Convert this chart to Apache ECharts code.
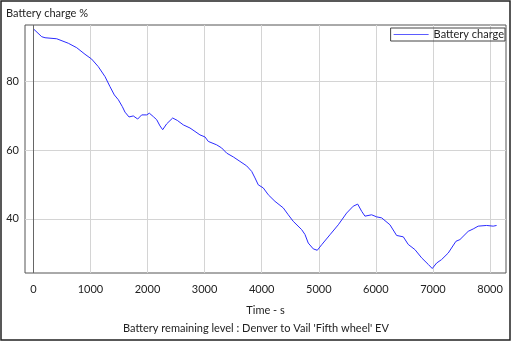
<!DOCTYPE html>
<html><head><meta charset="utf-8">
<script src="https://cdn.jsdelivr.net/npm/echarts@6/dist/echarts.min.js"></script>
<style>html,body{margin:0;padding:0;background:#fff}#c{width:512px;height:342px}</style>
</head><body><div id="c"></div>
<script>
const timeS = [0,147,205,410,613,760,905,1022,1138,1256,1343,1419,1489,1559,1606,1676,1751,1828,1898,1986,2032,2102,2161,2219,2266,2336,2441,2522,2627,2744,2832,2919,3007,3065,3212,3299,3387,3503,3620,3737,3825,3883,3940,4028,4116,4233,4378,4466,4553,4700,4758,4816,4904,4974,5051,5196,5342,5488,5604,5682,5752,5809,5926,6014,6102,6247,6364,6481,6567,6684,6802,6918,6988,7065,7152,7268,7403,7473,7618,7706,7793,7940,8056,8115];
const chargePct = [95.2,92.9,92.6,92.3,91.0,89.7,87.8,86.4,84.2,81.3,78.4,76.0,74.6,72.6,71.0,69.6,69.9,69.0,70.2,70.2,70.7,69.7,68.8,67.0,65.9,67.6,69.3,68.6,67.3,66.4,65.4,64.4,63.8,62.5,61.5,60.6,59.1,58.0,56.7,55.4,53.8,51.9,49.9,49.0,47.0,45.1,43.2,41.2,39.3,36.9,35.5,33.0,31.3,30.9,32.5,35.4,38.3,41.7,43.7,44.3,42.2,40.8,41.2,40.6,40.3,38.3,35.2,34.8,32.6,31.1,28.7,26.8,25.6,27.2,28.2,30.1,33.5,34.0,36.4,37.1,37.9,38.1,37.9,38.1];
const xTicks = [0,1000,2000,3000,4000,5000,6000,7000,8000];
const yTicks = [40,60,80];
const seriesName = 'Battery charge';
const titleText = 'Battery charge %';
const xName = 'Time - s';
const subtitleText = "Battery remaining level : Denver to Vail 'Fifth wheel' EV";

const font = 'Lato';
const fs = 11;
const chart = echarts.init(document.getElementById('c'));
chart.setOption({
  animation: false,
  textStyle: {fontFamily: font},
  title: [
    {text: titleText, left: 1, top: 3, textStyle: {fontSize: fs, fontWeight: 'normal', color: '#222', fontFamily: font}},
    {text: subtitleText, left: 'center', top: 318, textStyle: {fontSize: fs, fontWeight: 'normal', color: '#222', fontFamily: font}}
  ],
  graphic: [{type: 'rect', shape: {x: 1, y: 1, width: 509, height: 339}, style: {fill: 'none', stroke: '#222', lineWidth: 1.5}, z: 100}],
  legend: {
    data: [seriesName], right: 7, top: 28, orient: 'vertical',
    borderColor: '#444', borderWidth: 1, padding: [0, 1, 0, 3],
    icon: 'rect', itemWidth: 35, itemHeight: 1, itemGap: 0,
    itemStyle: {color: '#5b5bff'},
    textStyle: {fontSize: fs, color: '#222', fontFamily: font, lineHeight: 13}
  },
  grid: {left: 25, right: 6, top: 25, bottom: 69, show: true, borderColor: '#555', borderWidth: 1},
  xAxis: {
    type: 'value', min: -146, max: 8280,
    name: xName, nameLocation: 'middle', nameGap: 32,
    nameTextStyle: {fontSize: fs, color: '#222', fontFamily: font},
    axisLine: {show: false}, axisTick: {show: false, customValues: xTicks},
    axisLabel: {customValues: xTicks, formatter: v => String(v), fontSize: fs, color: '#222', margin: 11, fontFamily: font},
    splitLine: {show: true, lineStyle: {color: '#d4d4d4', width: 1}}
  },
  yAxis: {
    type: 'value', min: 24.3, max: 96.3,
    axisLine: {show: false}, axisTick: {show: false, customValues: yTicks},
    axisLabel: {customValues: yTicks, formatter: v => String(v), fontSize: fs, color: '#222', margin: 6, fontFamily: font},
    splitLine: {show: true, lineStyle: {color: '#d4d4d4', width: 1}}
  },
  series: [{
    name: seriesName, type: 'line', symbol: 'none', showSymbol: false,
    data: timeS.map((t, i) => [t, chargePct[i]]),
    lineStyle: {color: '#2b2bff', width: 1},
    itemStyle: {color: '#2b2bff'},
    markLine: {silent: true, symbol: 'none', label: {show: false},
      lineStyle: {color: '#666', width: 1, type: 'solid'},
      data: [{xAxis: xTicks[0]}]}
  }]
});
</script></body></html>
